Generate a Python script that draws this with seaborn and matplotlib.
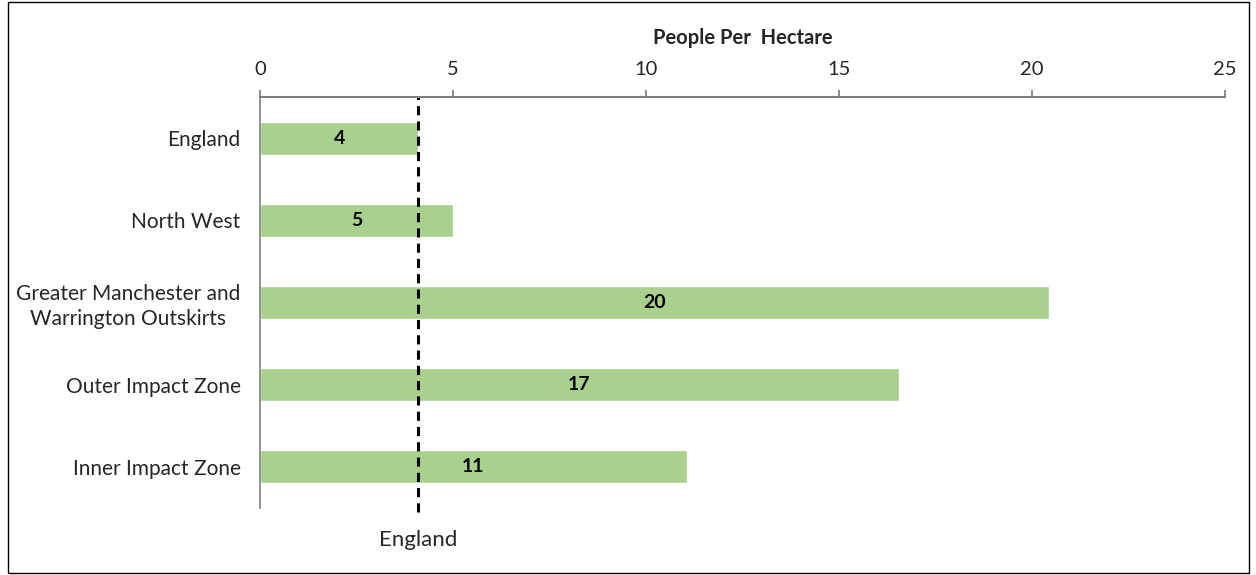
import matplotlib
matplotlib.use("Agg")
import matplotlib.pyplot as plt
import seaborn as sns
import pandas as pd

areas = ["England", "North West", "Greater Manchester and\nWarrington Outskirts",
         "Outer Impact Zone", "Inner Impact Zone"]
density = [4.1, 5.0, 20.45, 16.55, 11.05]
england_ref = 4.1
x_ticks = [0, 5, 10, 15, 20, 25]

sns.set_theme(style="white")
plt.rcParams["font.family"] = ["Lato", "DejaVu Sans"]

df = pd.DataFrame({"area": areas, "density": density})

fig = plt.figure(figsize=(12.56, 5.75), dpi=100)
ax = fig.add_axes([260 / 1256, 1 - 508 / 575, (1225 - 260) / 1256, (508 - 97) / 575])

sns.barplot(data=df, x="density", y="area", color="#A9D18E", saturation=1,
            width=0.4, ax=ax, orient="h")

for i, v in enumerate(density):
    ax.text(v / 2, i, f"{v:.0f}", ha="center", va="center", fontsize=14,
            fontweight="bold", color="black")

ax.axvline(england_ref, color="black", lw=2.2, ls=(0, (3, 2)), ymin=-0.01, ymax=1,
           clip_on=False)
ax.text(england_ref, -0.078, "England", transform=ax.get_xaxis_transform(),
        ha="center", va="center", fontsize=16)

ax.set_xlim(0, 25)
ax.set_ylim(4.5, -0.5)
ax.set_xticks(x_ticks)
ax.xaxis.tick_top()
ax.xaxis.set_label_position("top")
ax.tick_params(axis="x", direction="out", length=5, color="#7f7f7f", labelsize=14.5,
               pad=9, top=True, bottom=False)
ax.tick_params(axis="y", length=0, labelsize=15, pad=14)
ax.set_xlabel("People Per  Hectare", fontsize=14.5, fontweight="bold", labelpad=12)
ax.set_ylabel("")

for side in ["right", "bottom"]:
    ax.spines[side].set_visible(False)
ax.spines["top"].set_color("#7f7f7f")
ax.spines["top"].set_linewidth(1.5)
ax.spines["left"].set_color("#7f7f7f")
ax.spines["left"].set_linewidth(1.2)

for lbl in ax.get_yticklabels():
    lbl.set_horizontalalignment("right")
    lbl.set_multialignment("center")
    lbl.set_linespacing(1.3)

border = plt.Rectangle((8 / 1256, 2 / 575), (1249 - 8) / 1256, 1 - 4 / 575,
                       transform=fig.transFigure, fill=False, edgecolor="black", lw=1)
fig.patches.append(border)

fig.savefig("out.png", dpi=100)
